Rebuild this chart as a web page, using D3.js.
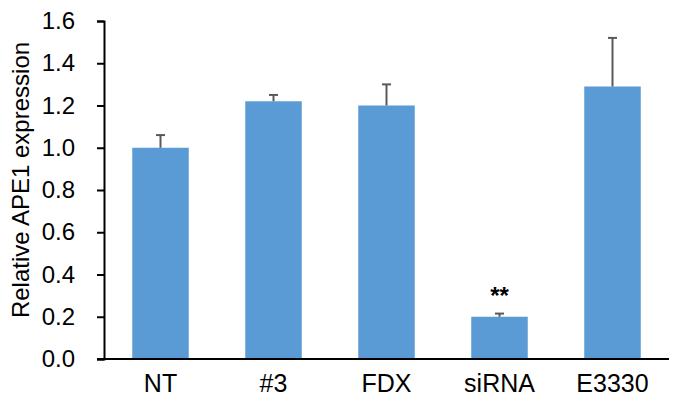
<!DOCTYPE html>
<html>
<head>
<meta charset="utf-8">
<script src="https://cdn.jsdelivr.net/npm/d3@7"></script>
<style>
  html, body { margin: 0; padding: 0; background: #fff; }
  svg { display: block; font-family: Arial, "Liberation Sans", sans-serif; }
</style>
</head>
<body>
<svg id="chart" width="676" height="406"></svg>
<script>
const categories = ["NT", "#3", "FDX", "siRNA", "E3330"];
const values = [1.0, 1.22, 1.2, 0.2, 1.29];
const errors = [0.06, 0.03, 0.10, 0.015, 0.23];
const significance = ["", "", "", "**", ""];
const yTicks = [0, 0.2, 0.4, 0.6, 0.8, 1.0, 1.2, 1.4, 1.6];
const yTitle = "Relative APE1 expression";

const svg = d3.select("#chart");
const margin = { left: 104, right: 7, top: 21, bottom: 47 };
const W = 676, H = 406;

const x = d3.scaleBand()
  .domain(categories)
  .range([margin.left, W - margin.right])
  .paddingInner(0.5)
  .paddingOuter(0.25);

const y = d3.scaleLinear()
  .domain([0, 1.6])
  .range([H - margin.bottom, margin.top]);

// bars
svg.append("g").selectAll("rect")
  .data(categories)
  .join("rect")
  .attr("x", d => x(d))
  .attr("width", x.bandwidth())
  .attr("y", (d, i) => y(values[i]))
  .attr("height", (d, i) => y(0) - y(values[i]))
  .attr("fill", "#5b9bd5");

// error bars
const eb = svg.append("g").attr("stroke", "#595959").attr("stroke-width", 2);
categories.forEach((c, i) => {
  const cx = x(c) + x.bandwidth() / 2;
  eb.append("line")
    .attr("x1", cx).attr("x2", cx)
    .attr("y1", y(values[i])).attr("y2", y(values[i] + errors[i]));
  eb.append("line")
    .attr("x1", cx - 4.5).attr("x2", cx + 4.5)
    .attr("y1", y(values[i] + errors[i])).attr("y2", y(values[i] + errors[i]));
});

// significance
svg.append("g").selectAll("text")
  .data(categories)
  .join("text")
  .attr("x", d => x(d) + x.bandwidth() / 2)
  .attr("y", (d, i) => y(values[i] + errors[i]) - 10)
  .attr("text-anchor", "middle")
  .attr("font-size", 24)
  .attr("font-weight", "bold")
  .attr("fill", "#000")
  .text((d, i) => significance[i]);

// y axis
const yAxis = svg.append("g")
  .attr("transform", `translate(${margin.left},0)`)
  .call(d3.axisLeft(y).tickValues(yTicks).tickFormat(d3.format(".1f")).tickSize(7).tickSizeOuter(7).tickPadding(22));
yAxis.select(".domain").attr("stroke", "#000").attr("stroke-width", 2);
yAxis.selectAll(".tick line").attr("stroke", "#000").attr("stroke-width", 2);
yAxis.selectAll(".tick text").attr("font-size", 24).attr("fill", "#000")
  .attr("font-family", "Arial, 'Liberation Sans', sans-serif");

// x axis
const xAxis = svg.append("g")
  .attr("transform", `translate(0,${y(0)})`)
  .call(d3.axisBottom(x).tickSize(0).tickSizeOuter(0).tickPadding(15));
xAxis.select(".domain").remove();
svg.append("line")
  .attr("x1", margin.left - 7).attr("x2", W - margin.right)
  .attr("y1", y(0)).attr("y2", y(0))
  .attr("stroke", "#000").attr("stroke-width", 2);
xAxis.selectAll(".tick text").attr("font-size", 25).attr("fill", "#000")
  .attr("font-family", "Arial, 'Liberation Sans', sans-serif");

// y title
svg.append("text")
  .attr("transform", `translate(29,${(y(0) + y(1.6)) / 2 - 10}) rotate(-90)`)
  .attr("text-anchor", "middle")
  .attr("font-size", 24)
  .attr("fill", "#000")
  .text(yTitle);
</script>
</body>
</html>
